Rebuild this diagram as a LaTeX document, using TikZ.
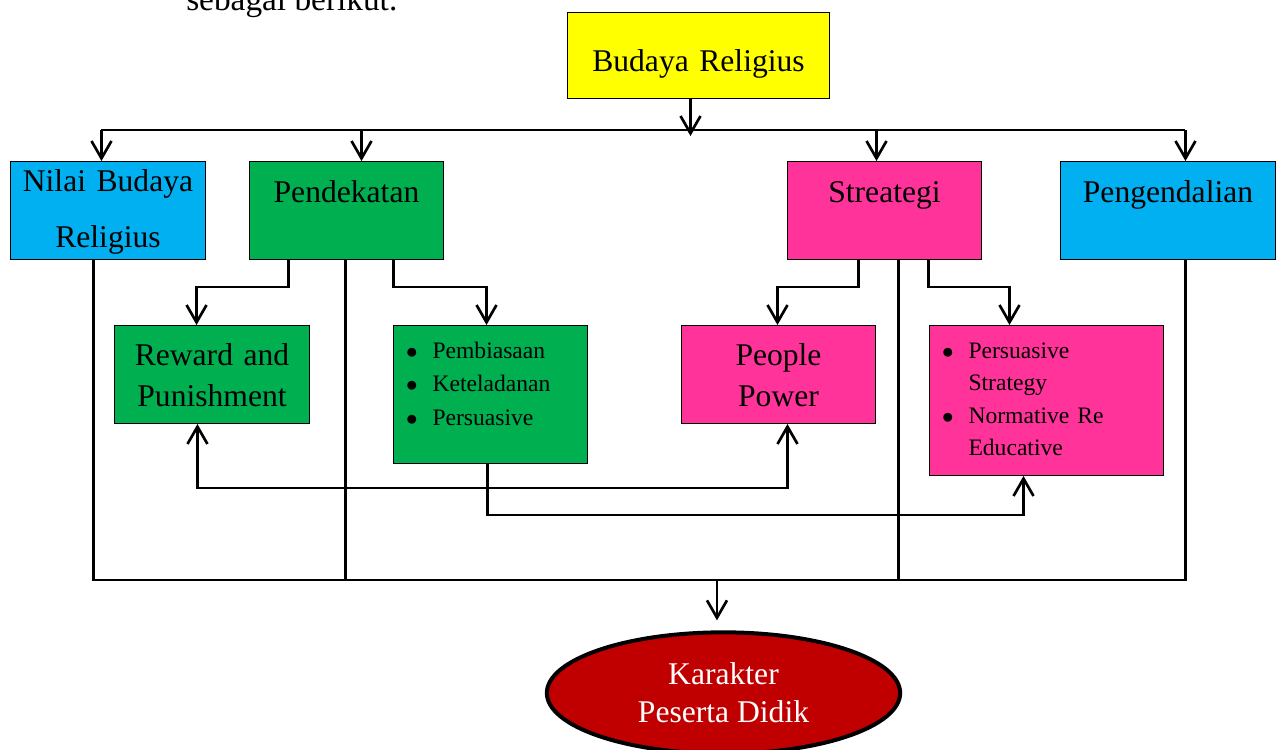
\documentclass[tikz,border=0pt]{standalone}
\usepackage{fontspec}
\setmainfont{Liberation Serif}
\usetikzlibrary{arrows.meta,shapes.geometric}
\definecolor{cyel}{HTML}{FFFF00}
\definecolor{cblue}{HTML}{00B0F0}
\definecolor{cgreen}{HTML}{00B050}
\definecolor{cpink}{HTML}{FF3399}
\definecolor{cred}{HTML}{C00000}
\newcommand{\bigtxt}{\fontsize{23.7}{30.75}\selectfont}
\newcommand{\smalltxt}{\fontsize{17.7}{25.1}\selectfont}
\newcommand{\bul}{\hspace*{9.5pt}\makebox[19.75pt][l]{$\bullet$}}
\begin{document}
\begin{tikzpicture}[x=0.75pt,y=-0.75pt,
  box/.style={draw=black, line width=0.75pt, inner sep=0pt, anchor=north west, align=center, font=\bigtxt},
  conn/.style={line width=2pt},
  arr/.style={conn, -{Straight Barb[length=13pt,width=15pt]}},
  arrboth/.style={conn, {Straight Barb[length=13pt,width=15pt]}-{Straight Barb[length=13pt,width=15pt]}}]
\useasboundingbox (0,0) rectangle (1280,749);
\begin{scope}
\clip (0,0) rectangle (1280,749);
\node[anchor=base west, inner sep=0pt, font=\fontsize{25}{30}\selectfont] (intro) at (186,11) {sebagai berikut.};

% boxes
\node[box, fill=cyel, text width=196.5pt, text height=44.25pt, text depth=20.25pt] (top) at (567,12) {Budaya Religius};
\node[box, fill=cblue, text width=146.25pt, text height=22.3pt, text depth=51.2pt, font=\fontsize{23.7}{42}\selectfont] (nilai) at (10,161) {Nilai Budaya\\Religius};
\node[box, fill=cgreen, text width=145.5pt, text height=30.75pt, text depth=42.75pt] (pend) at (249,161) {Pendekatan};
\node[box, fill=cpink, text width=145.5pt, text height=30.75pt, text depth=42.75pt] (stre) at (787,161) {Streategi};
\node[box, fill=cblue, text width=161.25pt, text height=30.75pt, text depth=42.75pt] (peng) at (1060,161) {Pengendalian};

\node[box, fill=cgreen, text width=146.25pt, text height=30pt, text depth=43.5pt] (reward) at (114,325) {Reward and\\Punishment};
\node[box, fill=cgreen, text width=145.5pt, text height=24.75pt, text depth=78.75pt, align=left, font=\smalltxt] (bulA) at (393,325) {\bul Pembiasaan\\\bul Keteladanan\\\bul Persuasive};
\node[box, fill=cpink, text width=145.5pt, text height=30pt, text depth=43.5pt] (people) at (681,325) {People\\Power};
\node[box, fill=cpink, text width=175.5pt, text height=24.75pt, text depth=87.75pt, align=left, font=\fontsize{17.7}{24.25}\selectfont] (bulB) at (929,325) {\bul Persuasive\\\hspace*{29.25pt}Strategy\\\bul Normative Re\\\hspace*{29.25pt}Educative};

\node[ellipse, draw=black, line width=3pt, fill=cred, text=white, minimum width=265pt, minimum height=91pt, inner sep=0pt, align=center, font=\fontsize{23.7}{28.5}\selectfont] (kar) at (723.5,693) {Karakter\\Peserta Didik};

% top bus
\coordinate (busT) at (0,130);
\coordinate (b1) at ([xshift=-4.9pt]nilai.north);
\coordinate (b2) at ([xshift=11.25pt]pend.north);
\coordinate (b3) at ([xshift=-6pt]stre.north);
\coordinate (b4) at ([xshift=13.1pt]peng.north);
\draw[arr] ([xshift=-6pt]top.south) -- ++(0,37);
\draw[conn] (b1 |- busT) -- (b4 |- busT);
\foreach \b in {b1,b2,b3,b4} \draw[arr] (\b |- busT) -- (\b);

% elbows to second row
\draw[arr] ([xshift=-43.5pt]pend.south) -- ++(0,27) -| ([xshift=-11.6pt]reward.north);
\draw[arr] ([xshift=35.25pt]pend.south) -- ++(0,27) -| ([xshift=-3pt]bulA.north);
\draw[arr] ([xshift=-19.5pt]stre.south) -- ++(0,27) -| ([xshift=-0.75pt]people.north);
\draw[arr] ([xshift=33pt]stre.south) -- ++(0,27) -| ([xshift=-27.75pt]bulB.north);

% cross links
\draw[arrboth] ([xshift=-10.9pt]reward.south) -- ++(0,64) -| ([xshift=6.75pt]people.south);
\draw[arr] ([xshift=-2.25pt]bulA.south) -- ++(0,51) -| ([xshift=-17.25pt]bulB.south);

% bottom bus
\coordinate (busB) at (0,580);
\coordinate (c1) at ([xshift=-10.9pt]nilai.south);
\coordinate (c2) at ([xshift=-0.75pt]pend.south);
\coordinate (c3) at ([xshift=10.5pt]stre.south);
\coordinate (c4) at ([xshift=13.1pt]peng.south);
\foreach \c in {c1,c2,c3,c4} \draw[conn] (\c) -- (\c |- busB);
\draw[conn, line cap=rect] (c1 |- busB) -- (c4 |- busB);
\draw[arr] ([xshift=-4.9pt]kar.north |- busB) -- ([xshift=-4.9pt,yshift=7.5pt]kar.north);
\end{scope}
\end{tikzpicture}
\end{document}
